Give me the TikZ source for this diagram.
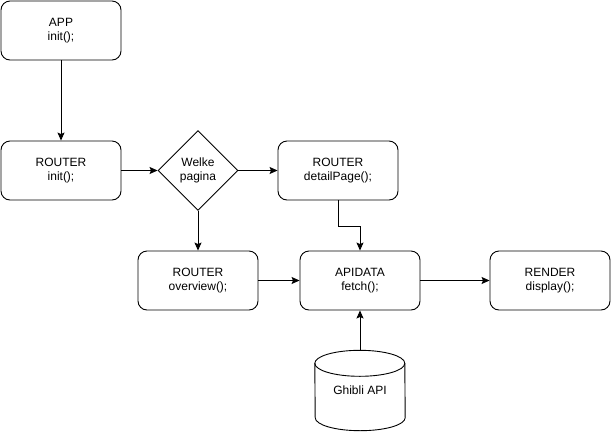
\documentclass[tikz,border=0pt]{standalone}
\usepackage{tikz}
\usepackage{fontspec}
\setmainfont{Liberation Sans}
\usetikzlibrary{shapes.geometric, arrows.meta, positioning}
\tikzstyle{process} = [rectangle, rounded corners=9pt, minimum width=120pt, minimum height=59pt, text centered, align=center, draw=black, line width=0.9pt, font=\fontsize{12}{14}\selectfont]
\tikzstyle{decision} = [diamond, aspect=1, minimum width=80pt, minimum height=80pt, inner sep=0pt, text centered, align=center, draw=black, line width=0.9pt, font=\fontsize{12}{14}\selectfont]
\tikzstyle{database} = [rectangle, minimum width=90pt, minimum height=80pt, text centered, font=\fontsize{12}{14}\selectfont]
\tikzstyle{outline} = [line width=0.9pt]
\tikzstyle{arrow} = [line width=0.9pt, -{Stealth[length=8pt, width=7pt, inset=1.5pt]}]

\begin{document}
\begin{tikzpicture}[node distance=140pt]
    \useasboundingbox (0,0) rectangle (611pt,-432pt);
    % nodes
    \node (app) [process] at (61pt,-30.5pt) {APP\\init();};
    \node (router) [process, below of=app] {ROUTER\\init();};
    \node (choice) [decision, right of=router, xshift=-3pt] {Welke\\pagina};
    \node (detail) [process, right of=choice] {ROUTER\\detailPage();};
    \node (overview) [process, below of=choice, yshift=30pt] {ROUTER\\overview();};
    \node (apidata) [process, right of=overview, xshift=22pt] {APIDATA\\fetch();};
    \node (render) [process, right of=apidata, xshift=50pt] {RENDER\\display();};
    \node (ghibli) [database, below of=apidata, yshift=30pt] {Ghibli API};

    % cylinder outline
    \draw [outline] ([yshift=-13pt]ghibli.north west) arc[start angle=180, end angle=0, x radius=45pt, y radius=13pt]
        -- ([yshift=13pt]ghibli.south east) arc[start angle=0, end angle=-180, x radius=45pt, y radius=13pt] -- cycle;
    \draw [outline] ([yshift=-13pt]ghibli.north west) arc[start angle=180, end angle=360, x radius=45pt, y radius=13pt];

    % connectors
    \draw [arrow] (app) -- (router);
    \draw [arrow] (router) -- (choice);
    \draw [arrow] (choice) -- (detail);
    \draw [arrow] (choice) -- (overview);
    \draw [arrow] (detail.south) -- ++(0,-26pt) -| (apidata.north);
    \draw [arrow] (overview) -- (apidata);
    \draw [arrow] (apidata) -- (render);
    \draw [arrow] (ghibli) -- (apidata);
\end{tikzpicture}
\end{document}
